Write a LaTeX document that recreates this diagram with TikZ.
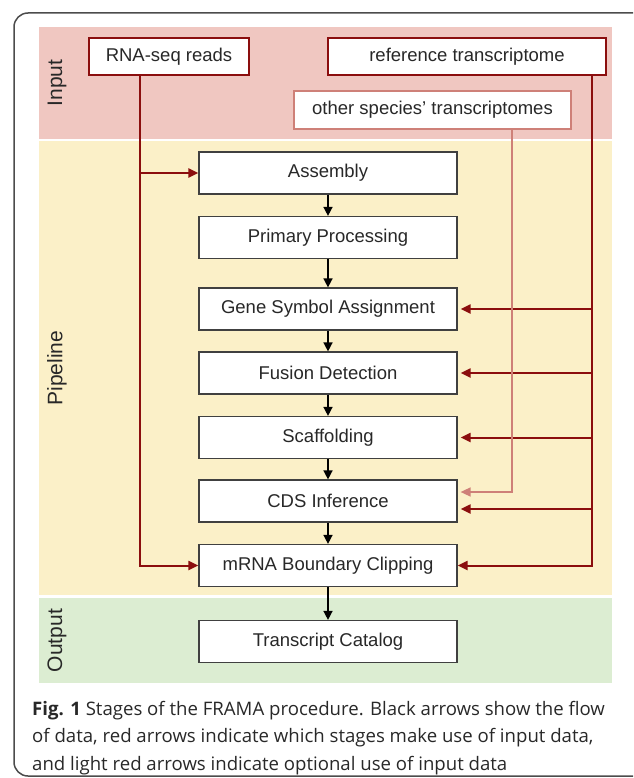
\documentclass[tikz,border=0pt]{standalone}
\usepackage{fontspec}
\setmainfont{Liberation Sans}
\newfontfamily\capfont{Open Sans}
\usepackage{xcolor}
\usetikzlibrary{arrows.meta,positioning}
\definecolor{inpcol}{RGB}{240,199,193}
\definecolor{pipcol}{RGB}{251,240,200}
\definecolor{outcol}{RGB}{220,237,210}
\definecolor{feedcol}{RGB}{139,14,14}
\definecolor{optcol}{RGB}{206,128,120}
\definecolor{txtcol}{RGB}{40,40,40}

\begin{document}
\begin{tikzpicture}[x=1pt,y=-1pt,
  stage/.style={draw=black!75,line width=1.2pt,fill=white,minimum width=258pt,minimum height=42pt,inner sep=0pt,font=\fontsize{18.5}{20}\selectfont,text=txtcol},
  source/.style={draw=feedcol,line width=2pt,fill=white,minimum height=37pt,inner sep=0pt,font=\fontsize{18.5}{20}\selectfont,text=txtcol},
  optsource/.style={source,draw=optcol,line width=1.5pt},
  bandlabel/.style={rotate=90,font=\fontsize{21}{24}\selectfont,text=txtcol},
  flow/.style={-{Triangle[length=9pt,width=9pt]},line width=1.5pt,black},
  feed/.style={-{Triangle[length=10pt,width=9pt]},line width=2pt,feedcol},
  optfeed/.style={feed,optcol,line width=1.5pt},
  capline/.style={anchor=base west,inner sep=0pt,text=txtcol,font=\capfont\fontsize{18.6}{22}\selectfont}]
\useasboundingbox (0,0) rectangle (633,778);
\begin{scope}
\clip (0,0) rectangle (633,778);
\draw[line width=1.5pt,black!70,rounded corners=14pt] (14,13) rectangle (660,776);
\end{scope}
\fill[inpcol] (39,27) rectangle (612,139);
\fill[pipcol] (39,141) rectangle (612,595);
\fill[outcol] (39,598) rectangle (612,683);
\node[bandlabel] (linput) at (57,83) {Input};
\node[bandlabel] (lpipe) at (57,368) {Pipeline};
\node[bandlabel] (lout) at (57,640.5) {Output};

\node[source,minimum width=160pt] (rna) at (169,57) {RNA-seq reads};
\node[source,minimum width=278pt] (ref) at (467,57) {reference transcriptome};
\node[optsource,minimum width=277pt,minimum height=38pt] (oth) at (432.5,110) {other species' transcriptomes};

\node[stage] (asm) at (328,173) {Assembly};
\node[stage] (prim) at (328,237.5) {Primary Processing};
\node[stage] (gene) at (328,309) {Gene Symbol Assignment};
\node[stage] (fusion) at (328,373) {Fusion Detection};
\node[stage] (scaf) at (328,437.5) {Scaffolding};
\node[stage] (cds) at (328,501) {CDS Inference};
\node[stage] (mrna) at (328,565.5) {mRNA Boundary Clipping};
\node[stage] (cat) at (328,641.5) {Transcript Catalog};

\foreach \a/\b in {asm/prim,prim/gene,gene/fusion,fusion/scaf,scaf/cds,cds/mrna,mrna/cat}
  \draw[flow] (\a) -- (\b);

\coordinate (lbus) at (140,565.5);
\coordinate (rbus) at (592,565.5);
\coordinate (obus) at (512,492);
\coordinate (cdsin) at (592,509);
\draw[feed] (rna.south -| lbus) -- (lbus) -- (mrna);
\draw[feed] (lbus |- asm) -- (asm);
\draw[feed] (ref.south -| rbus) -- (rbus) -- (mrna);
\foreach \s in {gene,fusion,scaf}
  \draw[feed,shorten >=3pt] (rbus |- \s) -- (\s);
\draw[feed,shorten >=3pt] (cdsin) -- (cdsin -| cds.east);
\draw[optfeed,shorten >=3pt] (oth.south -| obus) -- (obus) -- (obus -| cds.east);

\node[capline] (cap1) at (32,715) {\textbf{Fig. 1} Stages of the FRAMA procedure. Black arrows show the flow};
\node[capline] (cap2) at (32,742.5) {of data, red arrows indicate which stages make use of input data,};
\node[capline] (cap3) at (32,770) {and light red arrows indicate optional use of input data};
\end{tikzpicture}
\end{document}
